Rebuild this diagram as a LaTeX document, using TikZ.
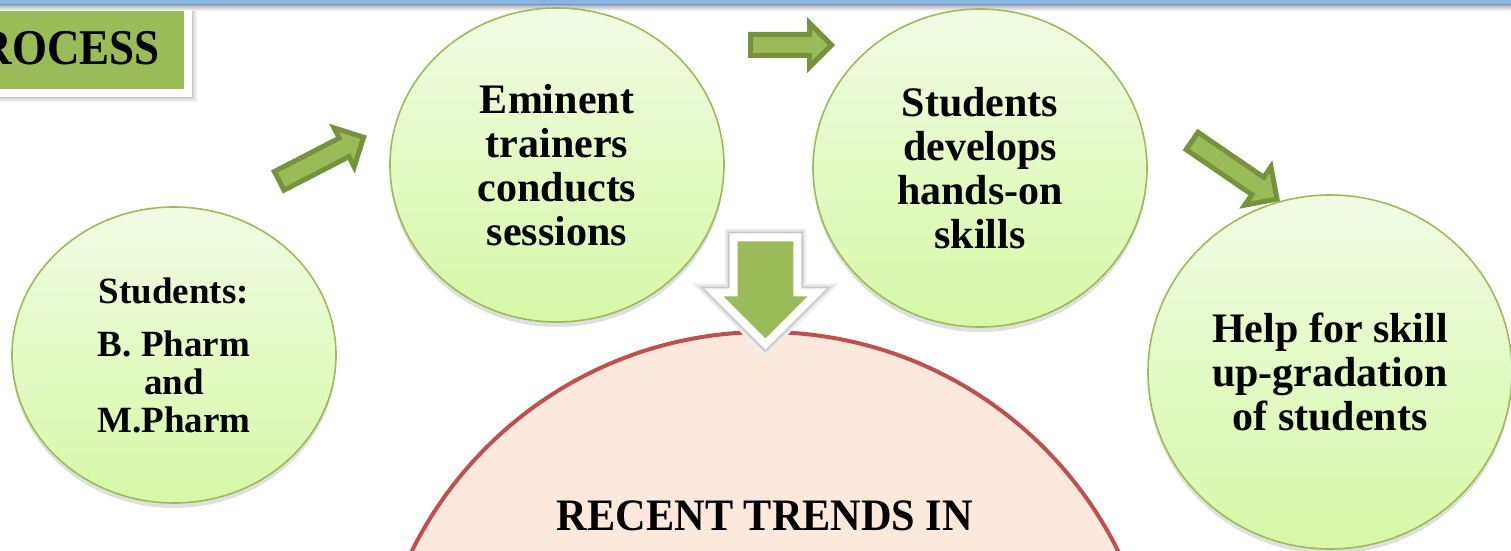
\documentclass[tikz,border=0pt]{standalone}
\usepackage{fontspec}
\setmainfont{Liberation Serif}
\usetikzlibrary{shapes.geometric,shapes.arrows,shadows}
\definecolor{leafline}{HTML}{9BBB59}
\definecolor{leaftop}{HTML}{F1FBE3}
\definecolor{leafbot}{HTML}{D7F8A6}
\definecolor{arrowdark}{HTML}{76923C}
\definecolor{arrowlight}{HTML}{9BBB59}
\definecolor{peach}{HTML}{FCE9DB}
\definecolor{brick}{HTML}{C0504D}
\definecolor{barblue}{HTML}{8DB3E2}
\definecolor{baredge}{HTML}{6A94CF}
\begin{document}
\begin{tikzpicture}[x=0.5pt,y=-0.5pt]
			\tikzstyle{every node}+=[inner sep=0pt]
			\tikzstyle{stage}=[ellipse, draw=leafline, line width=0.8pt, top color=leaftop, bottom color=leafbot, align=center, drop shadow={opacity=0.25, shadow xshift=0pt, shadow yshift=-2.5pt}, font=\bfseries\fontsize{21}{22}\selectfont]
			\tikzstyle{flow}=[single arrow, anchor=tail, fill=arrowlight, draw=arrowdark, line width=2.5pt, line join=miter, single arrow head extend=5.75pt, inner xsep=0pt, inner ysep=4pt]
			\tikzstyle{halo}=[preaction={draw=black!6, line width=#1+5pt, line join=miter}, preaction={draw=black!13, line width=#1+3pt, line join=miter}, preaction={draw=black!22, line width=#1+1.4pt, line join=miter}]
			\tikzstyle{banner}=[rectangle, fill=arrowlight, draw=white, line width=4pt, minimum width=148pt, minimum height=45pt, text width=120pt, inner xsep=14pt, align=right, halo=4pt, font=\bfseries\fontsize{25}{27}\selectfont]
			\useasboundingbox (0,0) rectangle (1511,551);
			\clip (0,0) rectangle (1511,551);
			\node[banner] (process) at (40,48) {\scalebox{0.9}[1]{PROCESS}};
			\shade [top color=black!30, bottom color=white] (0,5) rectangle (1511,11);
			\fill [barblue] (0,0) rectangle (1511,5);
			\draw [baredge, line width=0.8pt] (0,4.5) -- (1511,4.5);
			\node[stage, minimum width=162pt, minimum height=148pt, font=\bfseries\fontsize{18.5}{19}\selectfont] (pupils) at (174,355) {Students:\\[7.5pt]B. Pharm\\and\\M.Pharm};
			\node[stage, minimum width=167pt, minimum height=157pt] (trainers) at (557,165) {Eminent\\trainers\\conducts\\sessions};
			\node[stage, minimum width=167pt, minimum height=159pt] (skills) at (980,168) {Students\\develops\\hands-on\\skills};
			\node[stage, minimum width=182pt, minimum height=177pt] (upgrade) at (1330,372) {Help for skill\\up-gradation\\of students};
			\node[circle, draw=brick, line width=2pt, fill=peach, minimum size=394pt] (trends) at (765,726) {};
			\node[font=\bfseries\fontsize{22.5}{24}\selectfont] (trendtext) at (765,516) {\scalebox{0.94}[1]{RECENT TRENDS IN}};
			\node[flow, rotate=27.3, minimum height=47.5pt] (go1) at (277,182) {};
			\node[flow, minimum height=40.5pt] (go2) at (748,45) {};
			\node[flow, rotate=-34.4, minimum height=51.5pt, single arrow head extend=6.4pt] (go3) at (1190,139.5) {};
			\node[single arrow, rotate=-90, anchor=tail, fill=arrowlight, minimum height=48.5pt, inner xsep=0pt, inner ysep=13.75pt, single arrow head extend=7pt, halo=8pt, preaction={draw=white, line width=8pt, line join=miter}] (down) at (765.5,241) {};
\end{tikzpicture}
\end{document}
